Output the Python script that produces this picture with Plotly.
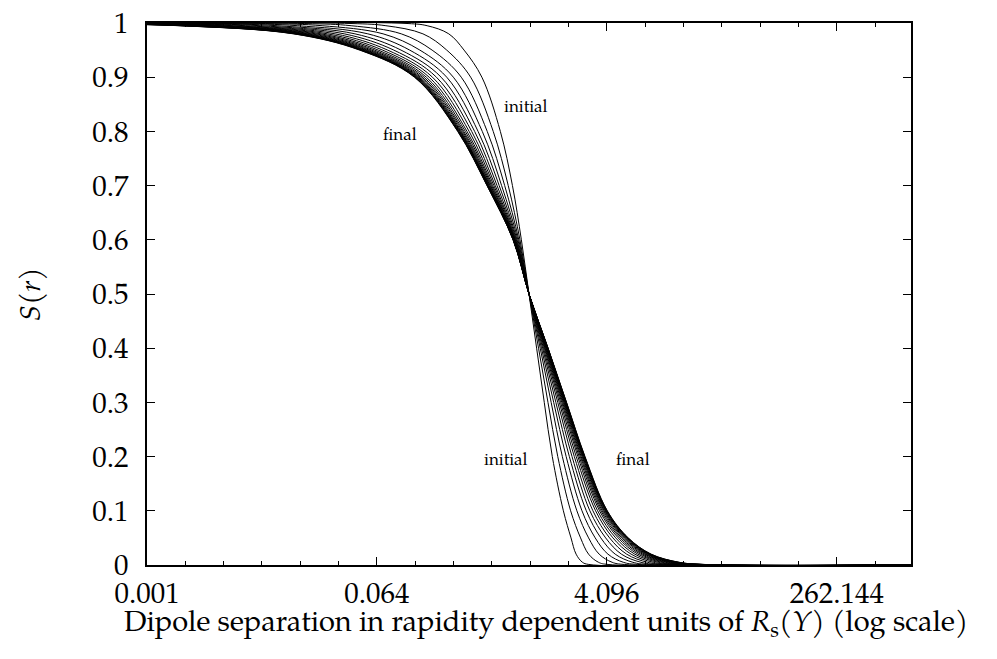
import plotly.graph_objects as go

# S(r) levels at which each curve's dipole size was read (log10 of r in units of R_s(Y))
s_levels = [1.0, 0.999, 0.995, 0.98, 0.95, 0.9, 0.8, 0.7, 0.6, 0.5,
            0.4, 0.3, 0.2, 0.1, 0.05, 0.02, 0.005, 0.001, 0.0]

# one row per rapidity step, from the initial condition to the final (scaling) curve
curves_log10_r = [
    [-4.0, -0.950, -0.800, -0.630, -0.510, -0.370, -0.225, -0.130, -0.060, 0.0, 0.060, 0.120, 0.183, 0.270, 0.330, 0.370, 0.420, 0.470, 3.0],
    [-4.0, -1.390, -1.124, -0.833, -0.646, -0.458, -0.281, -0.163, -0.071, 0.0, 0.075, 0.149, 0.226, 0.327, 0.405, 0.468, 0.546, 0.621, 3.0],
    [-4.0, -1.761, -1.397, -1.003, -0.761, -0.532, -0.328, -0.191, -0.080, 0.0, 0.088, 0.174, 0.262, 0.376, 0.468, 0.551, 0.653, 0.748, 3.0],
    [-4.0, -2.071, -1.625, -1.146, -0.857, -0.594, -0.367, -0.215, -0.087, 0.0, 0.098, 0.194, 0.292, 0.416, 0.520, 0.620, 0.741, 0.855, 3.0],
    [-4.0, -2.331, -1.816, -1.266, -0.937, -0.646, -0.400, -0.234, -0.094, 0.0, 0.107, 0.211, 0.317, 0.450, 0.564, 0.677, 0.816, 0.944, 3.0],
    [-4.0, -2.551, -1.978, -1.367, -1.005, -0.690, -0.427, -0.251, -0.099, 0.0, 0.114, 0.226, 0.338, 0.478, 0.602, 0.726, 0.879, 1.020, 3.0],
    [-4.0, -2.733, -2.112, -1.451, -1.062, -0.727, -0.450, -0.265, -0.104, 0.0, 0.121, 0.238, 0.356, 0.502, 0.633, 0.767, 0.931, 1.082, 3.0],
    [-4.0, -2.890, -2.227, -1.523, -1.110, -0.758, -0.470, -0.276, -0.108, 0.0, 0.126, 0.248, 0.371, 0.523, 0.659, 0.802, 0.976, 1.136, 3.0],
    [-4.0, -3.020, -2.323, -1.583, -1.150, -0.784, -0.487, -0.286, -0.111, 0.0, 0.130, 0.257, 0.384, 0.539, 0.681, 0.831, 1.014, 1.181, 3.0],
    [-4.0, -3.128, -2.403, -1.633, -1.184, -0.806, -0.500, -0.294, -0.113, 0.0, 0.134, 0.264, 0.394, 0.554, 0.700, 0.855, 1.045, 1.218, 3.0],
    [-4.0, -3.218, -2.469, -1.674, -1.212, -0.824, -0.512, -0.301, -0.116, 0.0, 0.137, 0.270, 0.403, 0.565, 0.715, 0.875, 1.071, 1.249, 3.0],
    [-4.0, -3.295, -2.526, -1.710, -1.236, -0.839, -0.521, -0.307, -0.118, 0.0, 0.140, 0.275, 0.410, 0.575, 0.728, 0.892, 1.093, 1.275, 3.0],
    [-4.0, -3.362, -2.575, -1.740, -1.256, -0.852, -0.530, -0.312, -0.119, 0.0, 0.142, 0.279, 0.417, 0.584, 0.740, 0.907, 1.112, 1.298, 3.0],
    [-4.0, -3.415, -2.614, -1.765, -1.273, -0.863, -0.537, -0.316, -0.120, 0.0, 0.144, 0.283, 0.422, 0.591, 0.749, 0.919, 1.127, 1.316, 3.0],
    [-4.0, -3.460, -2.647, -1.785, -1.287, -0.872, -0.542, -0.319, -0.122, 0.0, 0.145, 0.286, 0.426, 0.597, 0.756, 0.929, 1.140, 1.332, 3.0],
    [-4.0, -3.499, -2.676, -1.804, -1.299, -0.880, -0.547, -0.322, -0.123, 0.0, 0.147, 0.288, 0.430, 0.602, 0.763, 0.938, 1.151, 1.345, 3.0],
    [-4.0, -3.531, -2.699, -1.818, -1.309, -0.886, -0.551, -0.325, -0.123, 0.0, 0.148, 0.290, 0.433, 0.606, 0.768, 0.945, 1.160, 1.356, 3.0],
    [-4.0, -3.558, -2.719, -1.830, -1.317, -0.892, -0.555, -0.327, -0.124, 0.0, 0.149, 0.292, 0.436, 0.609, 0.773, 0.951, 1.168, 1.365, 3.0],
    [-4.0, -3.581, -2.736, -1.841, -1.324, -0.896, -0.558, -0.329, -0.125, 0.0, 0.149, 0.294, 0.438, 0.613, 0.777, 0.956, 1.175, 1.374, 3.0],
    [-4.0, -3.600, -2.750, -1.850, -1.330, -0.900, -0.560, -0.330, -0.125, 0.0, 0.150, 0.295, 0.440, 0.615, 0.780, 0.960, 1.180, 1.380, 3.0],
]

# axis ticks
x_tick_vals = [0.001, 0.064, 4.096, 262.144]
x_tick_text = ["0.001", "0.064", "4.096", "262.144"]
x_minor_step = 2.0
y_tick_vals = [0.0, 0.1, 0.2, 0.3, 0.4, 0.5, 0.6, 0.7, 0.8, 0.9, 1.0]
y_tick_text = ["0", "0.1", "0.2", "0.3", "0.4", "0.5", "0.6", "0.7", "0.8", "0.9", "1"]

# curve annotations: (text, log10 r, S)
curve_labels = [
    ("initial", -0.023, 0.844),
    ("final", -1.013, 0.792),
    ("initial", -0.180, 0.192),
    ("final", 0.819, 0.192),
]

SERIF = "Palatino Linotype, Palatino, 'URW Palladio L', 'TeX Gyre Pagella', 'Liberation Serif', serif"

fig = go.Figure()
for row in curves_log10_r:
    fig.add_trace(go.Scatter(
        x=[10 ** v for v in row],
        y=s_levels,
        mode="lines",
        line=dict(color="black", width=1, shape="spline", smoothing=1.0),
        hoverinfo="skip",
        showlegend=False,
    ))

# minor ticks every factor of two between the labelled powers of 64
minor_vals = []
v = x_tick_vals[0]
while v < 1000:
    if all(abs(v - m) / m > 1e-6 for m in x_tick_vals):
        minor_vals.append(v)
    v *= x_minor_step

for text, lx, sy in curve_labels:
    fig.add_annotation(x=lx, y=sy, xref="x", yref="y", text=text, showarrow=False,
                       xanchor="center", yanchor="middle",
                       font=dict(family=SERIF, size=17, color="black"))

fig.add_annotation(
    x=0.522, y=-0.112, xref="paper", yref="paper", xanchor="center", yanchor="middle",
    text="Dipole separation in rapidity dependent units of <i>R</i><sub>s</sub>(<i>Y</i>) (log scale)",
    showarrow=False, font=dict(family=SERIF, size=29, color="black"),
)
fig.add_annotation(
    x=-0.149, y=0.5, xref="paper", yref="paper", xanchor="center", yanchor="middle",
    text="<i>S</i>(<i>r</i>)",
    textangle=-90, showarrow=False, font=dict(family=SERIF, size=29, color="black"),
)

axis_common = dict(
    showline=True, linecolor="black", linewidth=1.6, mirror="ticks",
    ticks="inside", ticklen=8, tickwidth=1.2, tickcolor="black",
    showgrid=False, zeroline=False,
    tickfont=dict(family=SERIF, size=29, color="black"),
)

fig.update_xaxes(
    type="log", range=[-3, 3], tickmode="array",
    tickvals=x_tick_vals, ticktext=x_tick_text, ticklabelstandoff=1,
    minor=dict(tickmode="array", tickvals=minor_vals, ticks="inside",
               ticklen=4, tickwidth=1.2, tickcolor="black", showgrid=False),
    **axis_common,
)
fig.update_yaxes(
    range=[0, 1], tickmode="array", tickvals=y_tick_vals, ticktext=y_tick_text,
    ticklabelstandoff=11,
    **axis_common,
)

fig.update_layout(
    width=997, height=659,
    margin=dict(l=147, r=86, t=23, b=94),
    paper_bgcolor="white", plot_bgcolor="white",
)

fig.write_html("out.html")
